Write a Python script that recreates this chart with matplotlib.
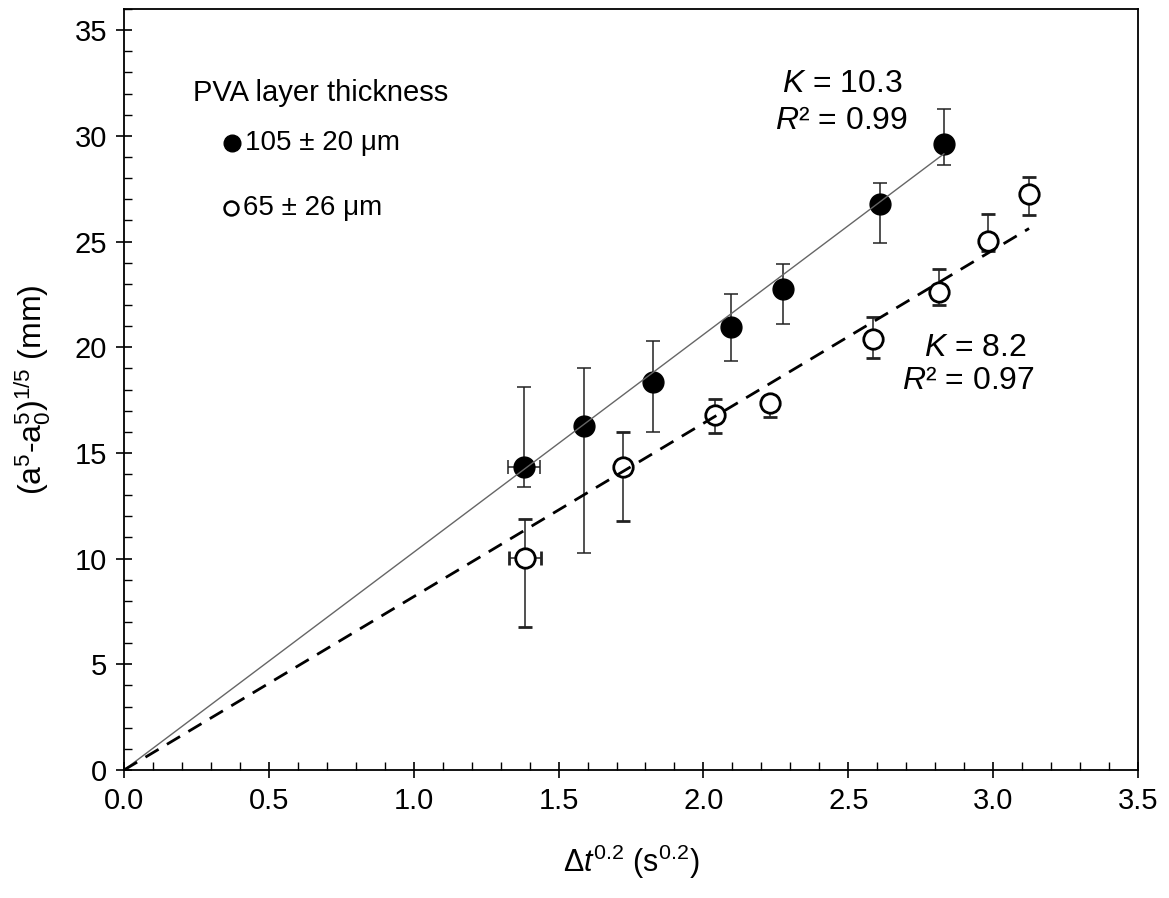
import matplotlib
matplotlib.use('Agg')
import matplotlib.pyplot as plt
import numpy as np
from matplotlib.ticker import MultipleLocator, FormatStrFormatter

plt.rcParams['font.family'] = ['Liberation Sans', 'DejaVu Sans']
plt.rcParams['mathtext.fontset'] = 'custom'
plt.rcParams['mathtext.rm'] = 'Liberation Sans'
plt.rcParams['mathtext.it'] = 'Liberation Sans:italic'
plt.rcParams['mathtext.bf'] = 'Liberation Sans:bold'

# ---- data: PVA layer 105 ± 20 µm (filled) ----
x_thick = [1.381, 1.588, 1.825, 2.096, 2.273, 2.610, 2.830]
y_thick = [14.32, 16.27, 18.34, 20.94, 22.75, 26.77, 29.60]
y_thick_low = [13.40, 10.25, 16.00, 19.33, 21.10, 24.91, 28.60]
y_thick_high = [18.10, 19.00, 20.29, 22.52, 23.94, 27.78, 31.25]
xerr_thick = [0.055, 0, 0, 0, 0, 0, 0]
K_thick = 10.3
R2_thick = 0.99

# ---- data: PVA layer 65 ± 26 µm (open) ----
x_thin = [1.383, 1.721, 2.040, 2.230, 2.587, 2.813, 2.983, 3.124]
y_thin = [10.03, 14.35, 16.78, 17.35, 20.37, 22.63, 25.02, 27.25]
y_thin_low = [6.78, 11.80, 15.93, 16.68, 19.47, 22.00, 24.56, 26.25]
y_thin_high = [11.86, 15.97, 17.54, 17.70, 21.41, 23.71, 26.29, 28.03]
xerr_thin = [0.055, 0, 0, 0, 0, 0, 0, 0]
K_thin = 8.2
R2_thin = 0.97

labels = ['105 ± 20 μm', '65 ± 26 μm']

fig = plt.figure(figsize=(11.69, 8.98), dpi=100)
ax = fig.add_axes([124/1169, 1 - 770/898, (1138-124)/1169, (770-9)/898])

def yerr(y, lo, hi):
    y = np.asarray(y); lo = np.asarray(lo); hi = np.asarray(hi)
    return np.vstack([y - lo, hi - y])

# fit lines through origin
xf1 = np.array([0, max(x_thick)])
ax.plot(xf1, K_thick * xf1, color='#666666', lw=1.0, zorder=4)
xf2 = np.array([0, max(x_thin)])
ax.plot(xf2, K_thin * xf2, color='black', lw=2.0, ls=(0, (5.5, 3.5)), zorder=6)

ax.errorbar(x_thick, y_thick, yerr=yerr(y_thick, y_thick_low, y_thick_high),
            xerr=xerr_thick, fmt='o', ms=15, mfc='black', mec='black',
            ecolor='#222222', elinewidth=1.1, capsize=5, capthick=1.1, zorder=3)
ax.errorbar(x_thin, y_thin, yerr=yerr(y_thin, y_thin_low, y_thin_high),
            xerr=xerr_thin, fmt='o', ms=14, mfc='white', mec='black', mew=2.0,
            ecolor='#222222', elinewidth=1.1, capsize=5, capthick=1.1, zorder=5)

ax.set_xlim(0, 3.5)
ax.set_ylim(0, 36)
ax.xaxis.set_major_locator(MultipleLocator(0.5))
ax.xaxis.set_minor_locator(MultipleLocator(0.1))
ax.yaxis.set_major_locator(MultipleLocator(5))
ax.yaxis.set_minor_locator(MultipleLocator(1))
ax.xaxis.set_major_formatter(FormatStrFormatter('%.1f'))
ax.tick_params(which='major', direction='inout', length=12, width=1.2,
               labelsize=21, pad=6)
ax.tick_params(which='minor', direction='in', length=6, width=1.0)
ax.tick_params(axis='x', which='both', top=False)
ax.tick_params(axis='y', which='both', right=False)
for s in ax.spines.values():
    s.set_linewidth(1.3)

ax.set_xlabel('Δ$t^{0.2}$ (s$^{0.2}$)', fontsize=22, labelpad=20)
ax.set_ylabel('(a$^{5}$-a$_{0}^{5}$)$^{1/5}$ (mm)', fontsize=23, labelpad=16)

# legend (manual)
ax.text(0.068, 0.889, 'PVA layer thickness', transform=ax.transAxes,
        fontsize=21, ha='left', va='center')
ax.plot([0.1065], [0.824], 'o', ms=12, color='black', transform=ax.transAxes, clip_on=False)
ax.text(0.1193, 0.824, labels[0], transform=ax.transAxes, fontsize=20, ha='left', va='center')
ax.plot([0.1055], [0.7385], 'o', ms=10, mfc='white', mec='black', mew=1.8,
        transform=ax.transAxes, clip_on=False)
ax.text(0.1174, 0.7385, labels[1], transform=ax.transAxes, fontsize=20, ha='left', va='center')

# fit annotations
ax.text(2.478, 32.45, f'$K$ = {K_thick}', fontsize=23, ha='center', va='center')
ax.text(2.478, 30.7, f'$R$² = {R2_thick}', fontsize=23, ha='center', va='center')
ax.text(2.937, 19.96, f'$K$ = {K_thin}', fontsize=23, ha='center', va='center')
ax.text(2.913, 18.4, f'$R$² = {R2_thin}', fontsize=23, ha='center', va='center')

fig.savefig('out.png', dpi=100)
